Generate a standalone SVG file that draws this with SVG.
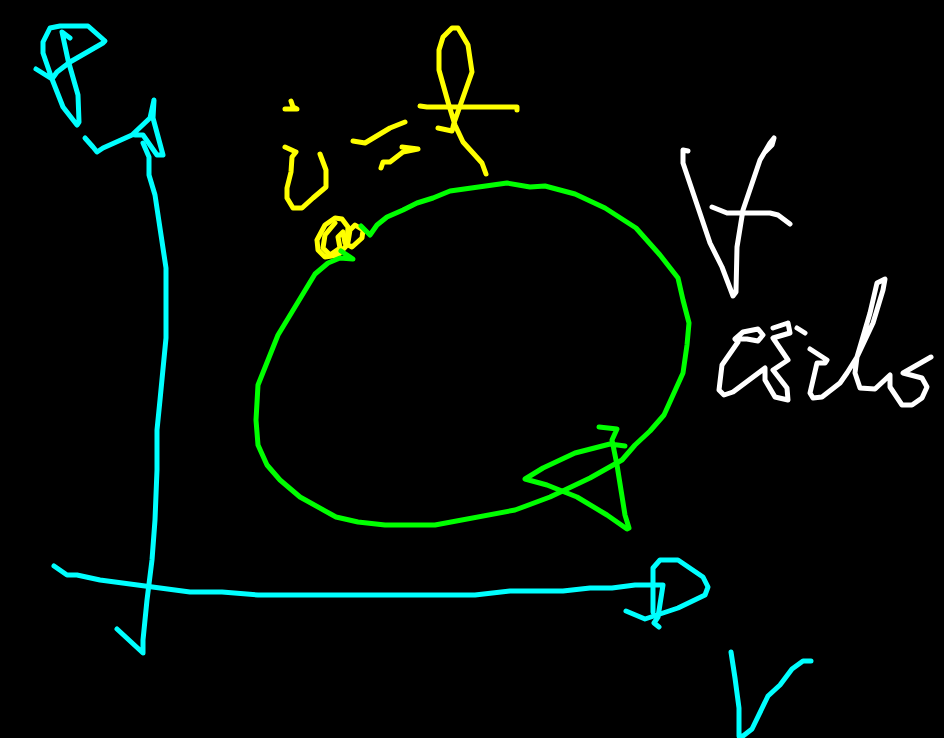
<svg xmlns="http://www.w3.org/2000/svg" width="944" height="738" viewBox="0 0 944 738">
<style>
polyline{fill:none;stroke-linecap:round;stroke-linejoin:round;stroke-width:5}
.c polyline{stroke:#00ffff}
.g polyline{stroke:#00ff00}
.y polyline{stroke:#ffff00}
.w polyline{stroke:#ffffff}
</style>
<rect width="944" height="738" fill="#000000"/>
<g id="axes" class="c">
<polyline points="36,69 52,79 57,72 70,62 103,43 105,41 88,26 60,26 50,28 43,42 43,53 52,79 63,107 77,125 79,122 78,95 68,60 62,32 70,38"/>
<polyline points="85,138 93,147 97,152 103,148 132,135 150,118 154,100 153,118 163,155 157,155 143,135 135,135"/>
<polyline points="143,143 149,157 149,175 155,195 166,268 166,338 160,400 157,430 157,470 155,520 152,560 147,600 143,640 143,653 117,629"/>
<polyline points="54,566 67,575 77,575 100,580 190,592 222,592 258,595 475,595 510,591 563,591 590,588 612,588 635,585 663,585 658,617 654,623 659,627"/>
<polyline points="653,612 653,568 660,560 678,560 703,577 708,587 705,595 678,608 645,619 626,611"/>
<polyline points="731,652 735,678 739,708 739,736 743,736 752,729 768,696 780,685 792,669 803,661 811,661"/>
</g>
<g id="label-isothermal" class="y">
<polyline points="285,109 297,109 293,107 291,101"/>
<polyline points="285,147 296,152 292,157 291,172 287,188 287,198 293,208 302,208 313,198 326,187 326,170 320,154"/>
<polyline points="405,122 390,128 365,143 353,141"/>
<polyline points="381,168 383,162 390,162 403,152 418,149 402,147"/>
<polyline points="420,106 427,107 517,107 517,110"/>
<polyline points="438,128 452,131 454,123 472,72 468,45 458,28 452,28 443,37 439,50 439,70 448,102 455,125 463,142 473,153 482,163 486,174"/>
<polyline points="317,240 325,225 335,218 342,219 348,227 347,245 338,255 325,257 318,250 317,240"/>
<polyline points="335,223 325,235 323,248 330,255 340,248 338,237 343,232 345,243 352,247 362,238 363,230 355,225 350,230 348,242"/>
</g>
<g id="cycle" class="g">
<polyline points="361,226 370,235 377,225 387,217 403,210 417,203 433,198 450,191 507,183 530,187 545,186 575,194 605,208 636,228 660,255 678,278 683,300 689,323 687,345 683,373 664,415 650,431 635,445 622,460 590,478 550,497 515,510 435,525 385,525 358,522 336,517 300,497 280,480 267,465 258,445 256,420 258,385 278,335 315,274 328,263 340,258 353,259 341,251"/>
<polyline points="599,427 617,429 612,440 617,465 625,515 629,528 627,529 607,515 577,497 547,485 525,479 543,468 575,453 610,444 625,446"/>
</g>
<g id="label-work" class="w">
<polyline points="688,151 683,150 683,163 710,243 722,267 733,296 736,292 737,247 743,210 760,160 770,143 774,138 772,145 765,152"/>
<polyline points="712,207 727,213 770,213 778,215 790,224"/>
<polyline points="735,339 743,332 758,329 763,335 758,341 747,339 735,339 738,342 722,365 719,390 724,395 733,392 765,368 765,380 775,397 788,400 787,388 773,370 788,360 773,338 790,333 788,323 773,328"/>
<polyline points="797,328 805,333"/>
<polyline points="810,349 827,360 825,363 817,363 810,393 813,398 822,397 840,383 847,373 857,357 870,313 877,283 885,279 883,290 873,323 857,357 855,373 860,388 875,389 890,375 890,387 902,405 912,405 922,398 927,387 922,378 903,373 931,357"/>
</g>
</svg>
